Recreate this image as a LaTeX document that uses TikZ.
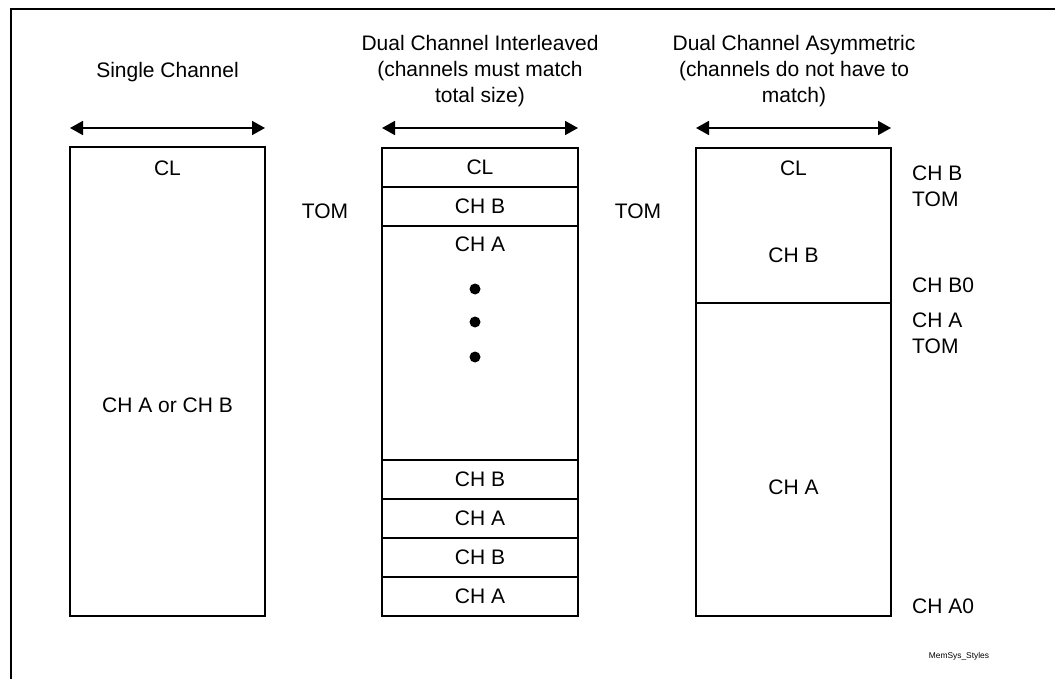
\documentclass[tikz,border=0pt]{standalone}
\usepackage{fontspec}
\setmainfont{Liberation Sans}
\usetikzlibrary{arrows.meta,positioning}

\begin{document}
\begin{tikzpicture}[x=1pt,y=-1pt,
  lbl/.style={inner sep=0pt,font=\fontsize{21}{26}\selectfont},
  blk/.style={draw,line width=1.4pt,inner sep=0pt,outer sep=0pt,anchor=north west,font=\fontsize{21}{26}\selectfont},
  slot/.style={blk,minimum width=196pt,minimum height=39pt},
  span/.style={line width=1.8pt,{Triangle[length=13pt,width=14pt]}-{Triangle[length=13pt,width=14pt]}},
  dot/.style={circle,fill=black,inner sep=0pt,minimum size=11pt}]
\useasboundingbox (0,0) rectangle (1055,679);
\draw [line width=2.2pt] (11,679)--(11,9)--(1055,9);

% single channel
\node [lbl,anchor=north] (t-single) at (167.5,62) {Single Channel};
\node [blk,minimum width=195pt,minimum height=469pt] (single) at (70,147) {};
\draw [span] ([yshift=19pt]single.north west)--([yshift=19pt]single.north east);
\node [lbl] (single-cl) at (167.5,168) {CL};
\node [lbl] (single-ab) at (167.5,405) {CH A or CH B};
\node [lbl] (tom1) at (325,211) {TOM};

% dual channel interleaved
\node [lbl,anchor=north,align=center] (t-inter) at (480,35) {Dual Channel Interleaved\\(channels must match\\total size)};
\node [slot] (il-cl) at (382,148) {CL};
\node [slot,below=0pt of il-cl] (il-b1) {CH B};
\node [slot,minimum height=234pt,below=0pt of il-b1] (il-a1) {};
\node [lbl,below=11pt of il-a1.north] (il-a1-txt) {CH A};
\foreach \y [count=\i] in {289,322,357}
  \node [dot] (il-dot\i) at (475,\y) {};
\node [slot,below=0pt of il-a1] (il-b2) {CH B};
\node [slot,below=0pt of il-b2] (il-a2) {CH A};
\node [slot,below=0pt of il-a2] (il-b3) {CH B};
\node [slot,below=0pt of il-b3] (il-a3) {CH A};
\draw [span] ([yshift=20pt]il-cl.north west)--([yshift=20pt]il-cl.north east);
\node [lbl] (tom2) at (638,211) {TOM};

% dual channel asymmetric
\node [lbl,anchor=north,align=center] (t-asym) at (794,35) {Dual Channel Asymmetric\\(channels do not have to\\match)};
\node [blk,minimum width=195pt,minimum height=155pt] (as-b) at (696,148) {};
\node [blk,minimum width=195pt,minimum height=313pt,below=0pt of as-b] (as-a) {};
\draw [span] ([yshift=20pt]as-b.north west)--([yshift=20pt]as-b.north east);
\node [lbl] (as-cl) at (793.5,168) {CL};
\node [lbl] (as-b-txt) at (793.5,255) {CH B};
\node [lbl] (as-a-txt) at (793.5,487) {CH A};

\node [lbl,anchor=west,align=left] (chb-tom) at (912,186.5) {CH B\\TOM};
\node [lbl,anchor=west] (chb0) at (912,285) {CH B0};
\node [lbl,anchor=west,align=left] (cha-tom) at (912,333) {CH A\\TOM};
\node [lbl,anchor=west] (cha0) at (912,606) {CH A0};

\node [inner sep=0pt,font=\fontsize{8.4}{10}\selectfont] (tag) at (959,656) {MemSys\_Styles};
\end{tikzpicture}
\end{document}
